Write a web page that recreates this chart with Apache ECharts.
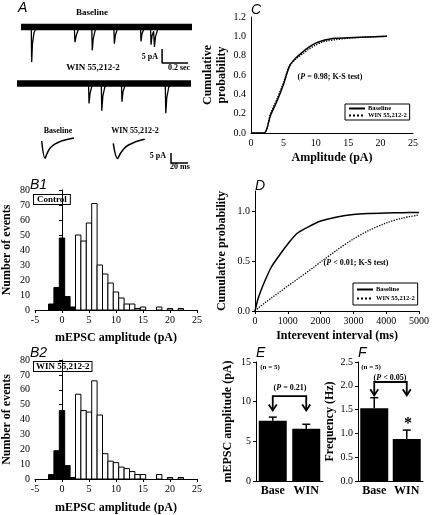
<!DOCTYPE html>
<html><head><meta charset="utf-8">
<script src="https://cdn.jsdelivr.net/npm/echarts@6/dist/echarts.min.js"></script>
<style>html,body{margin:0;padding:0;background:#fff}#c{width:432px;height:515px}</style>
</head><body><div id="c"></div>
<script>
// ---------- DATA ----------
// Panel A raw traces: [time (s), current (pA)]
const traceBaseline = [
  [0,0],[0.079,0],[0.082,-12.5],[0.088,-6],[0.1,-2],[0.12,0],
  [0.41,0],[0.415,-5.4],[0.425,-3],[0.44,-1],[0.46,0],
  [0.544,0],[0.548,-8.3],[0.556,-4],[0.57,-1.2],[0.59,0],
  [0.714,0],[0.718,-5.9],[0.726,-2.8],[0.74,-0.8],[0.76,0],
  [0.919,0],[0.923,-5.1],[0.93,-2.5],[0.945,-0.7],[0.96,0],
  [0.996,0],[1.0,-6.3],[1.008,-3],[1.02,-1.5],[1.026,-7.1],[1.034,-3.5],[1.05,-1],[1.07,0],
  [1.315,0]
];
const traceWin = [
  [0,0],[0.55,0],[0.554,-7.1],[0.562,-3.5],[0.575,-1],[0.595,0],
  [0.648,0],[0.652,-9.7],[0.66,-4.5],[0.675,-1.3],[0.695,0],
  [0.803,0],[0.807,-6.5],[0.815,-3],[0.83,-0.8],[0.85,0],
  [1.14,0],[1.144,-10.6],[1.152,-5],[1.167,-1.3],[1.19,0],
  [1.338,0]
];
// averaged events: [time (ms), current (pA)]
const avgBaseline = [[0,-1],[4,-9.6],[6,-7.5],[10,-4.5],[16,-2.4],[22,-1.2],[30,-0.2],[38,0.5]];
const avgWin = [[0,-1.7],[5,-9.2],[8,-7],[12,-4.6],[16,-3],[23,-1.5],[30,-0.4],[37,0.4]];

// Panel B histograms (bin centre pA, count)
const noiseBins = [-2,-1,0,1,2];
const b1Noise = [4,15,48,9,2];
const b2Noise = [3,19,46,9,1];
const eventBins = [3,4,5,6,7,8,9,10,11,12,13,14,15,16,17,18,19,20,21,22];
const b1Events = [50,46,58,71,30,24,18,12,8,4,4,1,2,0,0,2,0,1,0,1];
const b2Events = [57,46,45,66,43,17,12,11,8,7,5,3,3,0,0,3,0,1,0,1];

// Panel C cumulative amplitude
const cAmp = [0,2,3,4,5,6,7,8,9,10,11,12,13,15,17,19,21];
const cBaseline = [0,0,0.18,0.33,0.5,0.7,0.78,0.84,0.89,0.93,0.955,0.97,0.98,0.985,0.99,0.995,1.0];
const cWin = [0,0,0.2,0.35,0.52,0.7,0.77,0.82,0.87,0.91,0.94,0.955,0.965,0.98,0.99,0.995,1.0];

// Panel D cumulative interevent interval
const dInterval = [0,100,300,500,750,1000,1300,1800,2000,2500,3000,3500,4000,4500,5000];
const dBaseline = [0,0.13,0.3,0.44,0.56,0.67,0.78,0.87,0.9,0.94,0.965,0.975,0.98,0.983,0.985];
const dWin = [0,0.03,0.08,0.13,0.19,0.25,0.32,0.44,0.49,0.61,0.72,0.81,0.88,0.93,0.96];

// Panels E, F
const conds = ['Base','WIN'];
const eMean = [7.6, 6.6];
const eErr = [0.45, 0.55];
const fMean = [1.53, 0.88];
const fErr = [0.22, 0.19];
const eBracket = [10.7, 8.9];   // bracket level, arrow tip
const fBracket = [2.08, 1.8];

// ---------- HELPERS ----------
const SERIF = 'Liberation Serif';
const zip = (a,b)=>a.map((v,i)=>[v,b[i]]);
function histSeries(xi, yi, bins, counts, fill){
  return {type:'custom', xAxisIndex:xi, yAxisIndex:yi, silent:true,
    data: zip(bins, counts).filter(d=>d[1]>0),
    renderItem:(p,api)=>{
      const x=api.value(0), y=api.value(1);
      const a=api.coord([x-0.5,y]), b=api.coord([x+0.5,0]);
      return {type:'rect', shape:{x:a[0],y:a[1],width:b[0]-a[0],height:b[1]-a[1]},
        style:{fill:fill, stroke:'#000', lineWidth:1}};
    }};
}
function errSeries(xi, yi, means, errs){
  return {type:'custom', xAxisIndex:xi, yAxisIndex:yi, silent:true, z:5,
    data: means.map((m,i)=>[i,m,errs[i]]),
    renderItem:(p,api)=>{
      const i=api.value(0), m=api.value(1), e=api.value(2);
      const a=api.coord([i,m]), b=api.coord([i,m+e]);
      return {type:'group', children:[
        {type:'line', shape:{x1:a[0],y1:a[1],x2:b[0],y2:b[1]}, style:{stroke:'#000',lineWidth:1.5}},
        {type:'line', shape:{x1:b[0]-4,y1:b[1],x2:b[0]+4,y2:b[1]}, style:{stroke:'#000',lineWidth:1.5}}
      ]};
    }};
}
function bracketSeries(xi, yi, br){
  return {type:'custom', xAxisIndex:xi, yAxisIndex:yi, silent:true, z:6,
    data: [[0, br[0], br[1]]],
    renderItem:(p,api)=>{
      const top=api.value(1), tip=api.value(2);
      const l1=api.coord([0,top]), l2=api.coord([0,tip]);
      const r1=api.coord([1,top]), r2=api.coord([1,tip]);
      const st={stroke:'#000',lineWidth:1.8,fill:null};
      const chev=(x,y)=>({type:'polyline', shape:{points:[[x-4,y-6],[x,y],[x+4,y-6]]}, style:st});
      return {type:'group', children:[
        {type:'polyline', shape:{points:[l2,l1,r1,r2]}, style:st},
        chev(l2[0],l2[1]), chev(r2[0],r2[1])
      ]};
    }};
}
const tickLbl = {fontFamily:SERIF, fontSize:10, color:'#000'};
const nameStyle = {fontFamily:SERIF, fontSize:12, fontWeight:'bold', color:'#000'};
const axLine = {lineStyle:{color:'#000', width:1}};
const hidden = {show:false};
function valX(gi, min, max, interval, extra){
  return Object.assign({type:'value', gridIndex:gi, min, max, interval,
    axisLine:axLine, axisTick:{show:true, length:3, lineStyle:{color:'#000'}},
    splitLine:hidden, axisLabel:Object.assign({margin:5, formatter:v=>String(v)}, tickLbl)}, extra||{});
}
function valY(gi, min, max, interval, extra){
  return Object.assign({type:'value', gridIndex:gi, min, max, interval,
    axisLine:Object.assign({show:true},axLine), axisTick:{show:true, length:3, lineStyle:{color:'#000'}},
    splitLine:hidden, axisLabel:Object.assign({margin:5}, tickLbl)}, extra||{});
}
function hidX(gi,min,max){return {type:'value',gridIndex:gi,min,max,show:false};}
function hidY(gi,min,max){return {type:'value',gridIndex:gi,min,max,show:false};}
function txt(x,y,t,size,opts){
  return {type:'text', x, y, silent:true, style:Object.assign({text:t, fontFamily:SERIF, fontSize:size||9, fontWeight:'bold',
    fill:'#000', align:'center', verticalAlign:'middle'}, opts||{})};
}
function letter(x,y,t){
  return {type:'text', x, y, silent:true, style:{text:t, fontFamily:'Liberation Sans', fontStyle:'italic', fontSize:14, fill:'#000', align:'left', verticalAlign:'top'}};
}
function pText(x,y,pre,post){
  return {type:'text', x, y, silent:true, style:{
    text:'{a|'+pre+'}{i|P}{a|'+post+'}', align:'center', verticalAlign:'middle',
    rich:{a:{fontFamily:SERIF,fontSize:8,fontWeight:'bold',fill:'#000'},
          i:{fontFamily:SERIF,fontSize:8,fontWeight:'bold',fontStyle:'italic',fill:'#000'}}}};
}
function lineS(xi, yi, data, width, dotted, name, smooth){
  return {type:'line', name, xAxisIndex:xi, yAxisIndex:yi, data, symbol:'none', smooth:smooth||false,
    clip:false, silent:true, animation:false,
    lineStyle:{color:'#000', width:width, type:dotted?'dotted':'solid'}, itemStyle:{color:'#000'}};
}
const legendBase = {orient:'vertical', data:['Baseline','WIN 55,212-2'], borderColor:'#000', borderWidth:1,
  itemWidth:16, itemHeight:6, selectedMode:false,
  itemStyle:{opacity:0},
  textStyle:{fontFamily:SERIF, fontSize:6.5, fontWeight:'bold', color:'#000', padding:[0,0,0,-2]}};

// ---------- CHART ----------
const chart = echarts.init(document.getElementById('c'), null, {renderer:'canvas'});
const catAxis = gi => ({type:'category', gridIndex:gi, data:conds, axisLine:axLine, axisTick:hidden,
  axisLabel:{interval:0, fontFamily:SERIF, fontSize:12, fontWeight:'bold', color:'#000', margin:4}});
const option = {
  animation:false,
  backgroundColor:'#fff',
  grid:[
    {left:21, top:18.7, width:171, height:47.6},          // 0 trace baseline
    {left:17, top:75.1, width:174, height:47.6},          // 1 trace WIN
    {left:41.7, top:135, width:38.25, height:28},         // 2 avg baseline
    {left:113.3, top:136, width:76.5, height:28},         // 3 avg WIN + scale bar
    {left:31, top:190, width:166, height:120},            // 4 B1
    {left:31, top:360, width:166, height:119},            // 5 B2
    {left:251, top:17, width:162, height:116},            // 6 C
    {left:255, top:191, width:167, height:120},           // 7 D
    {left:256, top:362, width:67, height:119},            // 8 E
    {left:358, top:362, width:65, height:119}             // 9 F
  ],
  xAxis:[
    hidX(0,0,1.315), hidX(1,0,1.338), hidX(2,0,45), hidX(3,0,90),
    valX(4,-5,25,5,{name:'mEPSC amplitude (pA)', nameLocation:'middle', nameGap:22, nameTextStyle:nameStyle}),
    valX(5,-5,25,5,{name:'mEPSC amplitude (pA)', nameLocation:'middle', nameGap:23, nameTextStyle:nameStyle}),
    valX(6,0,25,5,{name:'Amplitude (pA)', nameLocation:'middle', nameGap:19, nameTextStyle:nameStyle, axisTick:{show:false}}),
    valX(7,0,5000,1000,{name:'Interevent interval (ms)', nameLocation:'middle', nameGap:19, nameTextStyle:nameStyle}),
    catAxis(8), catAxis(9)
  ],
  yAxis:[
    hidY(0,-14,3), hidY(1,-14,3), hidY(2,-12,2), hidY(3,-12,2),
    valY(4,0,80,10,{name:'Number of events', nameLocation:'middle', nameGap:22, nameTextStyle:nameStyle}),
    valY(5,0,80,10,{name:'Number of events', nameLocation:'middle', nameGap:22, nameTextStyle:nameStyle}),
    valY(6,0,1.2,0.2,{name:'Cumulative\nprobability', nameLocation:'middle', nameGap:22,
      nameTextStyle:Object.assign({lineHeight:14},nameStyle), axisTick:{show:false},
      axisLabel:Object.assign({margin:5, formatter:v=>v.toFixed(1)}, tickLbl)}),
    valY(7,0,1.2,0.5,{name:'Cumulative probability', nameLocation:'middle', nameGap:27, nameTextStyle:nameStyle,
      axisTick:{show:true,length:3,lineStyle:{color:'#000'},customValues:[0,0.5,1]},
      axisLabel:Object.assign({margin:5, customValues:[0,0.5,1], formatter:v=>v.toFixed(1)}, tickLbl)}),
    valY(8,0,15,5,{name:'mEPSC amplitude (pA)', nameLocation:'middle', nameGap:22, nameTextStyle:nameStyle}),
    valY(9,0,2.5,0.5,{name:'Frequency (Hz)', nameLocation:'middle', nameGap:22, nameTextStyle:nameStyle,
      axisLabel:Object.assign({margin:5, formatter:v=>v.toFixed(1)}, tickLbl)})
  ],
  legend:[
    Object.assign({left:345, top:104, padding:[1,3], itemGap:0}, legendBase),
    Object.assign({left:353, top:283, padding:[3,3], itemGap:2}, legendBase)
  ],
  series:[
    // A traces: noise band + events
    lineS(0,0,[[0,0],[1.315,0]],6.5,false,'noise1'),
    lineS(0,0,traceBaseline,1.3,false,'trace1'),
    lineS(1,1,[[0,0],[1.338,0]],6.5,false,'noise2'),
    lineS(1,1,traceWin,1.3,false,'trace2'),
    lineS(0,0,[[1.085,-7.86],[1.085,-12.86],[1.285,-12.86]],1.5,false,'scale1'),
    lineS(2,2,avgBaseline,1.5,false,'avg1',0.4),
    lineS(3,3,avgWin,1.5,false,'avg2',0.4),
    lineS(3,3,[[67.9,-6.5],[67.9,-11.5],[87.9,-11.5]],1.5,false,'scale2'),
    // B histograms
    histSeries(4,4,noiseBins,b1Noise,'#000'),
    histSeries(4,4,eventBins,b1Events,'#fff'),
    histSeries(5,5,noiseBins,b2Noise,'#000'),
    histSeries(5,5,eventBins,b2Events,'#fff'),
    // C
    lineS(6,6,zip(cAmp,cBaseline),1.5,false,'Baseline',0.3),
    lineS(6,6,zip(cAmp,cWin),1.3,true,'WIN 55,212-2',0.3),
    // D
    lineS(7,7,zip(dInterval,dBaseline),1.5,false,'Baseline',0.3),
    lineS(7,7,zip(dInterval,dWin),1.3,true,'WIN 55,212-2',0.3),
    // E, F bars
    {type:'bar', xAxisIndex:8, yAxisIndex:8, data:eMean, barWidth:28, itemStyle:{color:'#000'}, silent:true},
    errSeries(8,8,eMean,eErr),
    bracketSeries(8,8,eBracket),
    {type:'bar', xAxisIndex:9, yAxisIndex:9, data:fMean, barWidth:28, itemStyle:{color:'#000'}, silent:true},
    errSeries(9,9,fMean,fErr),
    bracketSeries(9,9,fBracket)
  ],
  graphic:[
    letter(18,1,'A'), letter(30,178,'B1'), letter(30,346,'B2'),
    letter(251,3,'C'), letter(255,179,'D'), letter(256,346,'E'), letter(358,346,'F'),
    txt(92,13,'Baseline',9), txt(93,68,'WIN 55,212-2',9),
    txt(158,57,'5 pA',8,{align:'right'}), txt(179,68,'0.2 sec',8),
    txt(58,131,'Baseline',8), txt(135,131,'WIN 55,212-2',8),
    txt(166,156,'5 pA',8,{align:'right'}), txt(180,167,'20 ms',8),
    {type:'text', left:33, top:194, silent:true, style:{text:'Control', fontFamily:SERIF, fontSize:9, fontWeight:'bold', fill:'#000',
      borderColor:'#000', borderWidth:1, padding:[0,3], backgroundColor:'#fff'}},
    {type:'text', left:33, top:361, silent:true, style:{text:'WIN 55,212-2', fontFamily:SERIF, fontSize:9, fontWeight:'bold', fill:'#000',
      borderColor:'#000', borderWidth:1, padding:[0,2], backgroundColor:'#fff'}},
    pText(330,77,'(',' = 0.98; K-S test)'),
    pText(356,263,'(',' < 0.01; K-S test)'),
    txt(270,367,'(n = 5)',7), txt(371,367,'(n = 5)',7),
    pText(290,388,'(',' = 0.21)'), pText(390,378,'(',' < 0.05)'),
    txt(408,424,'*',16)
  ]
};
chart.setOption(option);
</script></body></html>
